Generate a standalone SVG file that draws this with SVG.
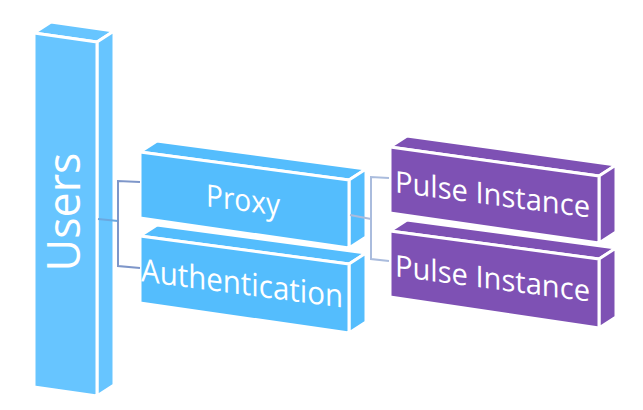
<svg xmlns="http://www.w3.org/2000/svg" width="643" height="410" viewBox="0 0 643 410">
<style>
.face{stroke:#fff;stroke-width:3;stroke-linejoin:round}
.blue1{fill:#67C5FF}
.blue2{fill:#54BDFD}
.purple{fill:#7E51B4}
.lbl{font-family:"Open Sans","Liberation Sans",sans-serif;fill:#fff;text-anchor:middle}
.conL{fill:none;stroke:#7E96C9;stroke-width:2}
.conR{fill:none;stroke:#AABCDD;stroke-width:2}
</style>
<rect width="643" height="410" fill="#fff"/>
<g id="users">
<polygon class="face blue1" points="34,33 97,42 114,31 51,22"/>
<polygon class="face blue1" points="97,42 114,31 114,385 97,396"/>
<polygon class="face blue1" points="34,33 97,42 97,396 34,387"/>
<text class="lbl" font-size="45" textLength="119" lengthAdjust="spacingAndGlyphs" transform="translate(80,212) rotate(-90)">Users</text>
</g>
<g id="proxy">
<polygon class="face blue2" points="140,152 349,180 366,169 157,141"/>
<polygon class="face blue2" points="349,180 366,169 366,237 349,248"/>
<polygon class="face blue2" points="140,152 349,180 349,248 140,218"/>
<text class="lbl" font-size="31" textLength="74" lengthAdjust="spacingAndGlyphs" transform="translate(243,211) skewY(7.43)">Proxy</text>
</g>
<g id="authentication">
<polygon class="face blue2" points="140,236 349,264 366,253 157,225"/>
<polygon class="face blue2" points="349,264 366,253 366,322 349,333"/>
<polygon class="face blue2" points="140,236 349,264 349,333 140,303"/>
<text class="lbl" font-size="32" textLength="202" lengthAdjust="spacingAndGlyphs" transform="translate(242,294.5) skewY(7.43)">Authentication</text>
</g>
<g id="pulse1">
<polygon class="face purple" points="390,147 599,176 616,165 407,136"/>
<polygon class="face purple" points="599,176 616,165 616,232 599,243"/>
<polygon class="face purple" points="390,147 599,176 599,243 390,213"/>
<text class="lbl" font-size="30" textLength="195" lengthAdjust="spacingAndGlyphs" transform="translate(492.5,205) skewY(7.43)">Pulse Instance</text>
</g>
<g id="pulse2">
<polygon class="face purple" points="390,231 599,259 616,248 407,220"/>
<polygon class="face purple" points="599,259 616,248 616,317 599,328"/>
<polygon class="face purple" points="390,231 599,259 599,328 390,297"/>
<text class="lbl" font-size="30" textLength="195" lengthAdjust="spacingAndGlyphs" transform="translate(492.5,289) skewY(7.43)">Pulse Instance</text>
</g>
<g id="connectors">
<path d="M98,219 L118,221" fill="none" stroke="#6AA8E0" stroke-width="2"/>
<path class="conL" d="M140,182 L118,181 L118,266 L140,268"/>
<path class="conR" d="M350,215 L371,219"/>
<path class="conR" d="M389,178 L371,177 L371,259 L389,261"/>
</g>
</svg>
